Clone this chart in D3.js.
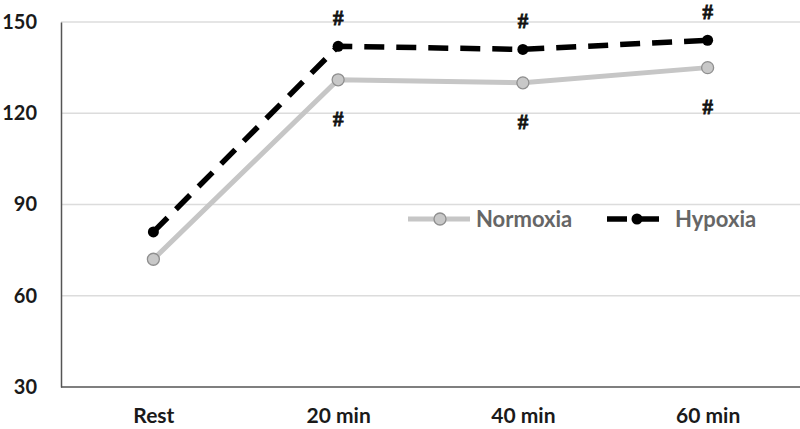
<!DOCTYPE html>
<html><head><meta charset="utf-8">
<script src="https://cdn.jsdelivr.net/npm/d3@7"></script>
<style>body{margin:0;background:#fff}svg{display:block}</style>
</head><body>
<svg id="c" width="800" height="429"></svg>
<script>
const categories = ["Rest","20 min","40 min","60 min"];
const normoxia = [72,131,130,135];
const hypoxia = [81,142,141,144];
const yTicks = [30,60,90,120,150];
const hypoxiaHash = [false,true,true,true];
const normoxiaHash = [false,true,true,true];

const svg = d3.select("#c");
const W=800,H=429, m={l:61,r:0,t:22,b:42};
const x = d3.scalePoint().domain(categories).range([m.l, W-m.r]).padding(0.5);
const y = d3.scaleLinear().domain([30,150]).range([H-m.b, m.t]);
const font = "Lato, 'Open Sans', sans-serif";

// grid
svg.append("g").selectAll("line").data(yTicks.filter(d=>d>30)).join("line")
  .attr("x1",m.l).attr("x2",W-m.r).attr("y1",d=>y(d)).attr("y2",d=>y(d))
  .attr("stroke","#dcdcdc").attr("stroke-width",1.3);

// axes
const yAxis = svg.append("g").attr("transform",`translate(${m.l},0)`)
  .call(d3.axisLeft(y).tickValues(yTicks).tickSize(0).tickPadding(24));
yAxis.select(".domain").attr("stroke","#555").attr("stroke-width",1.5);
yAxis.selectAll("text").attr("font-family",font).attr("font-weight","bold")
  .attr("font-size",20).attr("fill","#1a1a1a");
const xAxis = svg.append("g").attr("transform",`translate(0,${y(30)})`)
  .call(d3.axisBottom(x).tickSize(0).tickPadding(21));
xAxis.select(".domain").attr("stroke","#555").attr("stroke-width",1.5)
  .attr("d",`M${m.l},0H${W}`);
xAxis.selectAll("text").attr("font-family",font).attr("font-weight","bold")
  .attr("font-size",21).attr("fill","#1a1a1a");

const line = d3.line().x((d,i)=>x(categories[i])).y(d=>y(d));

// normoxia
svg.append("path").datum(normoxia).attr("d",line).attr("fill","none")
  .attr("stroke","#c6c6c6").attr("stroke-width",5);
svg.append("g").selectAll("circle").data(normoxia).join("circle")
  .attr("cx",(d,i)=>x(categories[i])).attr("cy",d=>y(d)).attr("r",6)
  .attr("fill","#c8c8c8").attr("stroke","#8f8f8f").attr("stroke-width",1.3);

// hypoxia
svg.append("path").datum(hypoxia).attr("d",line).attr("fill","none")
  .attr("stroke","#000").attr("stroke-width",5.5).attr("stroke-dasharray","20,12");
svg.append("g").selectAll("circle").data(hypoxia).join("circle")
  .attr("cx",(d,i)=>x(categories[i])).attr("cy",d=>y(d)).attr("r",5.5)
  .attr("fill","#000");

// hash marks
const hashStyle = s => s.attr("text-anchor","middle").attr("font-family","'Liberation Serif', serif")
  .attr("font-weight","bold").attr("font-size",21).attr("fill","#111")
  .attr("stroke","#111").attr("stroke-width",0.8).text("#");
svg.append("g").selectAll("text").data(hypoxia.map((v,i)=>({v,i})).filter(d=>hypoxiaHash[d.i])).join("text")
  .attr("x",d=>x(categories[d.i])).attr("y",d=>y(d.v)-21).call(hashStyle);
svg.append("g").selectAll("text").data(normoxia.map((v,i)=>({v,i})).filter(d=>normoxiaHash[d.i])).join("text")
  .attr("x",d=>x(categories[d.i])).attr("y",d=>y(d.v)+46).call(hashStyle);

// legend
const lg = svg.append("g").attr("transform","translate(0,219)");
lg.append("line").attr("x1",408).attr("x2",470).attr("stroke","#c6c6c6").attr("stroke-width",5);
lg.append("circle").attr("cx",440).attr("r",6).attr("fill","#c8c8c8").attr("stroke","#8f8f8f").attr("stroke-width",1.3);
lg.append("text").attr("x",476).attr("y",8).attr("font-family",font).attr("font-weight","bold")
  .attr("font-size",22).attr("fill","#666").text("Normoxia");
lg.append("line").attr("x1",607).attr("x2",663).attr("stroke","#000").attr("stroke-width",5.5).attr("stroke-dasharray","20,12");
lg.append("circle").attr("cx",637).attr("r",5.5).attr("fill","#000");
lg.append("text").attr("x",675).attr("y",8).attr("font-family",font).attr("font-weight","bold")
  .attr("font-size",22).attr("fill","#666").text("Hypoxia");
</script>
</body></html>
